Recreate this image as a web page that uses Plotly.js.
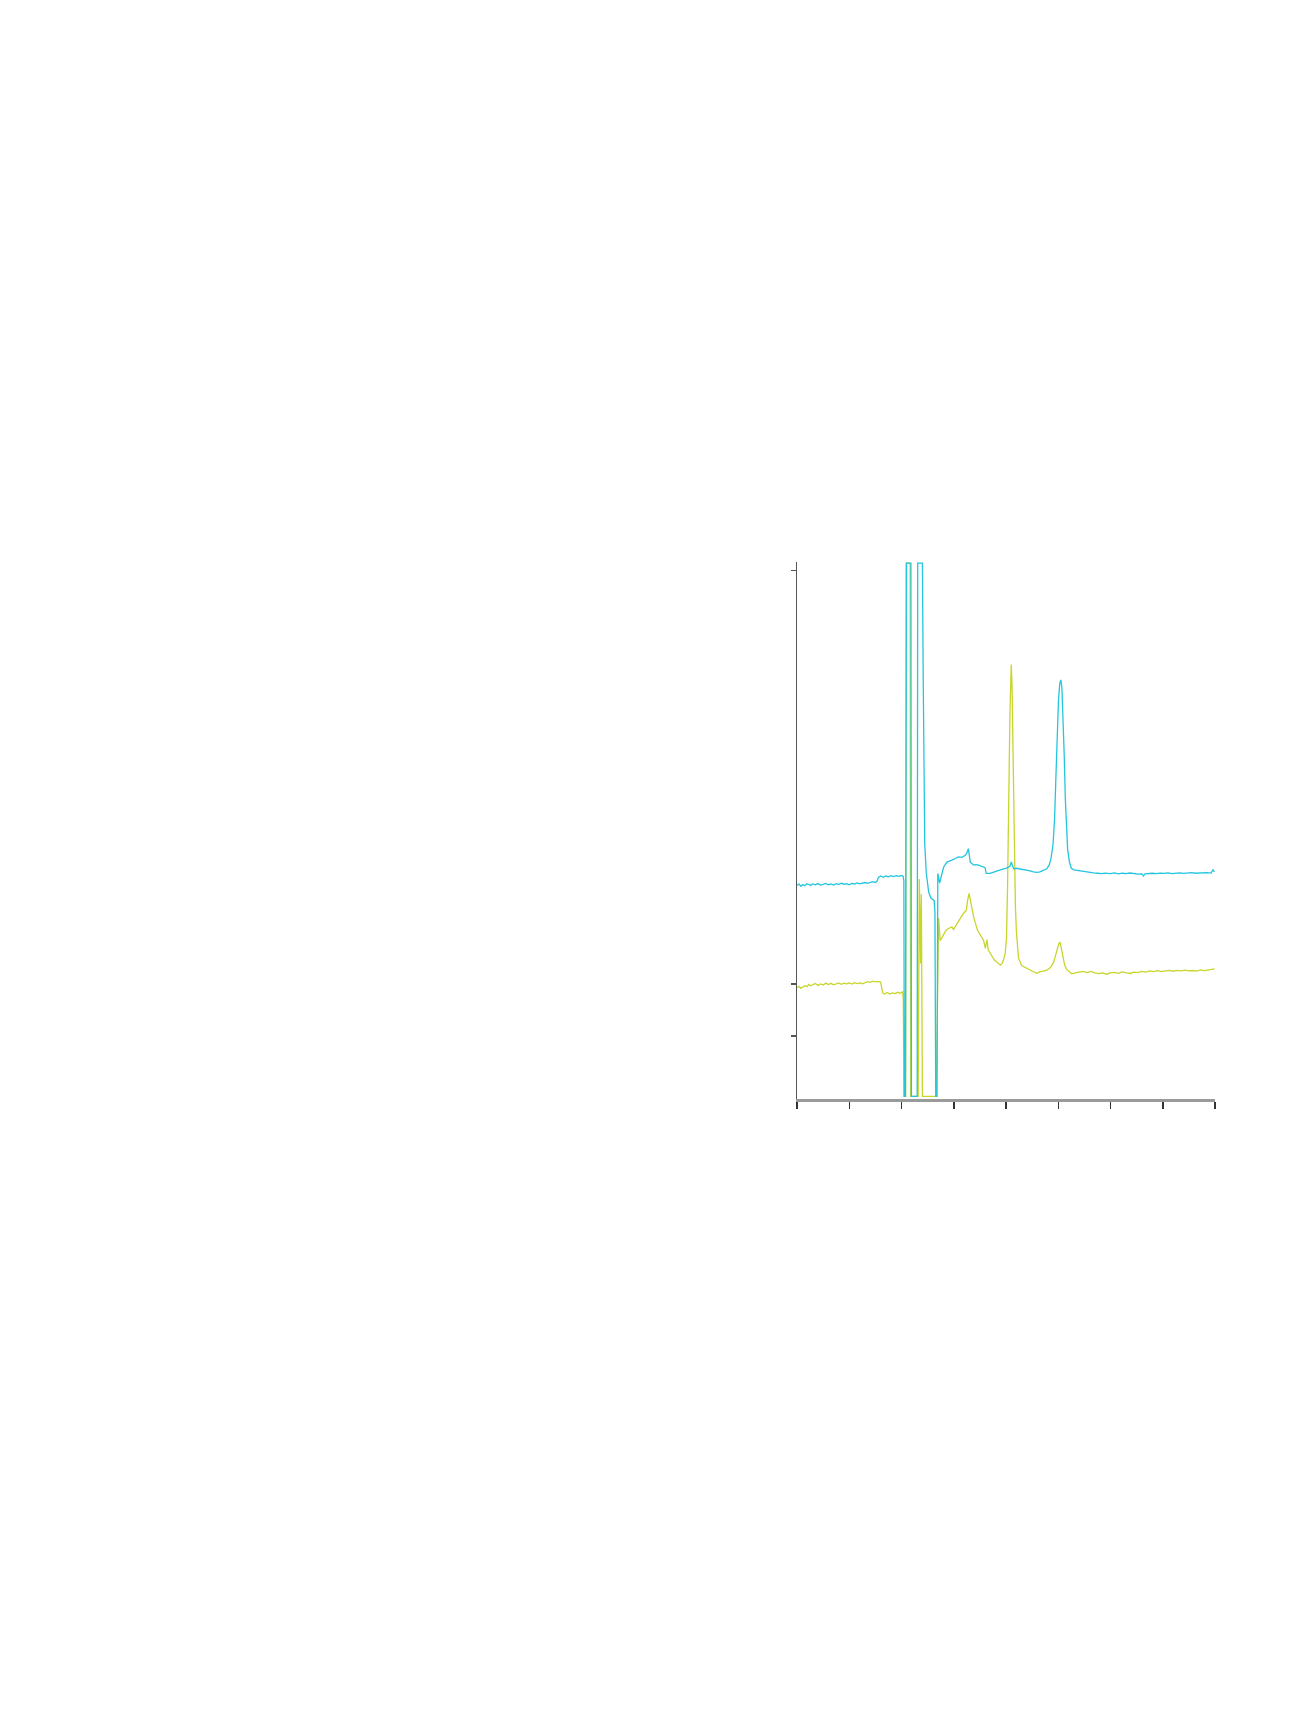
<!DOCTYPE html>
<html>
<head>
<meta charset="utf-8">
<script src="https://cdn.plot.ly/plotly-3.0.1.min.js"></script>
<style>
  html, body { margin: 0; padding: 0; background: #fff; }
  #plotDiv { width: 1299px; height: 1732px; }
</style>
</head>
<body>
<div id="plotDiv"></div>
<script>
// retention time (min) and detector signal (mAU)
const cyanTime = [
  0, 0.08, 0.15, 0.22, 0.3, 0.38, 0.45, 0.52, 0.6, 0.7, 0.8, 0.9, 1.0, 1.1, 1.2, 1.3, 1.4, 1.5, 1.6, 1.7,
  1.8, 1.9, 2.0, 2.1, 2.2, 2.3, 2.4, 2.5, 2.6, 2.7, 2.8, 2.9, 3.0, 3.06, 3.12, 3.2, 3.3, 3.4, 3.5, 3.6,
  3.7, 3.8, 3.9, 4.0, 4.06,
  4.09, 4.11, 4.15, 4.19, 4.36, 4.38, 4.60, 4.62, 4.80, 4.83, 4.86, 4.89, 4.95, 5.04, 5.13, 5.25, 5.28,
  5.31, 5.36, 5.39, 5.46, 5.51, 5.61, 5.74, 5.83, 5.93, 6.06, 6.18, 6.31, 6.44, 6.50, 6.56, 6.60, 6.63,
  6.76, 6.85, 6.95, 7.05, 7.14, 7.20, 7.24, 7.39, 7.50, 7.65, 7.78, 7.90, 8.00, 8.09, 8.15, 8.20, 8.25,
  8.29, 8.40, 8.50, 8.67, 8.80, 8.92, 9.05, 9.18, 9.30, 9.43, 9.56, 9.65, 9.72, 9.80, 9.86, 9.91, 9.96,
  10.01, 10.06, 10.10, 10.14, 10.18, 10.23, 10.27, 10.31, 10.36, 10.43, 10.50, 10.60, 10.72, 10.84,
  11.0, 11.15, 11.35, 11.5, 11.65, 11.8, 11.99, 12.15, 12.3, 12.45, 12.6, 12.75, 12.9, 13.05, 13.2,
  13.26, 13.32, 13.45, 13.6, 13.75, 13.9, 14.05, 14.2, 14.35, 14.5, 14.65, 14.8, 14.95, 15.1, 15.25,
  15.4, 15.55, 15.7, 15.85, 15.92, 15.98
];
const cyanSignal = [
  95.5, 96.8, 94.6, 96.2, 95.1, 97.0, 96.3, 95.4, 96.9, 96.0, 97.2, 95.8, 96.5, 97.3, 96.1, 96.8, 95.7, 97.0, 96.4, 97.5,
  96.6, 97.2, 96.0, 97.4, 96.8, 97.9, 96.9, 97.6, 98.2, 97.4, 98.6, 99.0, 98.3, 99.4, 103.2, 104.6, 103.3, 104.5, 103.7, 104.8,
  104.0, 104.9, 104.2, 105.0, 104.4,
  100, -108.5, -108.5, 407, 407, -108.5, -108.5, 407, 407, 300, 180, 135, 107, 89, 83, 81, 70,
  -108.5, -108.5, 107, 97.6, 103.7, 113, 118, 118.5, 119.8, 121.4, 123, 122.5, 124.6, 126.5, 131, 124, 118,
  115, 115.5, 115, 114, 113, 112.5, 107, 107, 108, 109.5, 110.5, 111.5, 112, 113, 114, 118, 113,
  111.5, 112, 111.5, 111, 110.5, 109.5, 108.5, 108, 108.5, 110, 111.5, 115, 121, 135, 160, 200, 240,
  275, 291, 294, 286, 260, 220, 180, 150, 130, 118, 112, 110.5, 110, 109.5,
  108.5, 108, 107.6, 107.2, 106.8, 107.3, 106.9, 107.5, 106.6, 107.2, 106.8, 107.4, 106.9, 106.3, 106.6,
  104.5, 106.5, 106.9, 107.2, 106.8, 107.3, 107.0, 107.5, 106.9, 107.3, 107.6, 107.1, 107.4, 107.8, 107.2,
  107.6, 107.3, 107.8, 107.4, 110.5, 108.5
];

const yellowTime = [
  0, 0.08, 0.15, 0.22, 0.3, 0.38, 0.45, 0.52, 0.6, 0.7, 0.8, 0.9, 1.0, 1.1, 1.2, 1.3, 1.4, 1.5, 1.6, 1.7,
  1.8, 1.9, 2.0, 2.1, 2.2, 2.3, 2.4, 2.5, 2.6, 2.7, 2.8, 2.9, 3.0, 3.1, 3.2, 3.24, 3.28, 3.35, 3.45, 3.55,
  3.65, 3.75, 3.85, 3.95, 4.04,
  4.07, 4.09, 4.16, 4.18, 4.33, 4.35, 4.64, 4.68, 4.71, 4.73, 4.76, 4.78, 4.80, 5.33, 5.38, 5.42, 5.48,
  5.55, 5.61, 5.70, 5.80, 5.93, 5.99, 6.06, 6.12, 6.25, 6.37, 6.48, 6.53, 6.59, 6.66, 6.76, 6.91, 7.01,
  7.14, 7.21, 7.27, 7.32, 7.46, 7.56, 7.65, 7.78, 7.85, 7.90, 7.97, 8.02, 8.06, 8.10, 8.15, 8.20, 8.23,
  8.26, 8.31, 8.36, 8.40, 8.48, 8.60, 8.70, 8.80, 8.92, 9.05, 9.18, 9.30, 9.43, 9.56, 9.70, 9.82, 9.90,
  9.97, 10.02, 10.07, 10.12, 10.18, 10.25, 10.33, 10.43, 10.52, 10.65, 10.8, 10.95, 11.1, 11.25, 11.4,
  11.55, 11.7, 11.85, 12.0, 12.15, 12.3, 12.45, 12.6, 12.75, 12.9, 13.05, 13.2, 13.35, 13.5, 13.65, 13.8,
  13.95, 14.1, 14.25, 14.4, 14.55, 14.7, 14.85, 15.0, 15.15, 15.3, 15.45, 15.6, 15.75, 15.9, 15.98
];
const yellowSignal = [
  -3.5, -2.2, -4.0, -2.8, -1.5, -2.4, -0.3, -1.6, -0.8, 0.6, -1.2, 0.2, -0.9, 1.0, -0.4, 0.8, -0.6, 0.5, 1.2, -0.2,
  0.9, 0.3, 1.1, 0.0, 1.4, 0.6, 1.2, 0.4, 1.6, 2.4, 1.8, 2.9, 2.2, 2.6, 2.0, -4, -8.5, -9.5, -8.0, -9.6,
  -8.4, -9.2, -7.9, -8.8, -7.5,
  -15, -108.5, -108.5, 407, 407, -108.5, -108.5, 101.5, 60, 20, 87, -40, -108.5, -108.5, 30, 64, 42,
  45, 49, 52, 53.8, 55.4, 52.8, 56, 58.6, 63.5, 68.3, 71.5, 81, 87.6, 78, 65, 52, 47.3,
  42.5, 34.5, 43, 33, 26.4, 23, 21.5, 18.4, 20, 23, 30, 45, 95, 175, 260, 309, 290,
  240, 145, 75, 50, 25, 18, 16.5, 15.8, 14, 12, 10.5, 12, 12.5, 13.5, 16, 21, 28,
  35, 39, 40.7, 35, 27, 18, 14, 11.5, 10, 11, 11.5, 12.3, 11.2, 12.4, 11.0,
  10.2, 10.8, 9.6, 10.9, 11.3, 10.4, 11.8, 11.0, 10.3, 11.6, 11.2, 12.3, 11.7, 12.8, 12.1, 13.0,
  12.2, 12.9, 13.3, 12.5, 13.4, 12.8, 13.6, 12.9, 13.2, 12.6, 13.8, 13.1, 14.0, 14.4, 14.8
];

const xTicks = [0, 2, 4, 6, 8, 10, 12, 14, 16];
const yTicks = [-50, 0, 400];

const data = [
  {
    x: yellowTime,
    y: yellowSignal,
    mode: 'lines',
    type: 'scatter',
    line: { color: '#c8d52c', width: 1.3 },
    hoverinfo: 'skip'
  },
  {
    x: cyanTime,
    y: cyanSignal,
    mode: 'lines',
    type: 'scatter',
    line: { color: '#22c6de', width: 1.3 },
    hoverinfo: 'skip'
  }
];

const layout = {
  width: 1299,
  height: 1732,
  paper_bgcolor: '#ffffff',
  plot_bgcolor: '#ffffff',
  showlegend: false,
  margin: { l: 797, r: 84, t: 562, b: 633, pad: 0 },
  xaxis: {
    range: [0, 16],
    tickvals: xTicks,
    showticklabels: false,
    showgrid: false,
    zeroline: false,
    showline: true,
    linecolor: '#9a9a9a',
    linewidth: 2.5,
    ticks: 'outside',
    ticklen: 7,
    tickwidth: 1.5,
    tickcolor: '#333333'
  },
  yaxis: {
    range: [-111, 408],
    tickvals: yTicks,
    showticklabels: false,
    showgrid: false,
    zeroline: false,
    showline: true,
    linecolor: '#555555',
    linewidth: 1.5,
    ticks: 'outside',
    ticklen: 5,
    tickwidth: 1.5,
    tickcolor: '#555555'
  }
};

Plotly.newPlot('plotDiv', data, layout, { staticPlot: true, displayModeBar: false });
</script>
</body>
</html>
